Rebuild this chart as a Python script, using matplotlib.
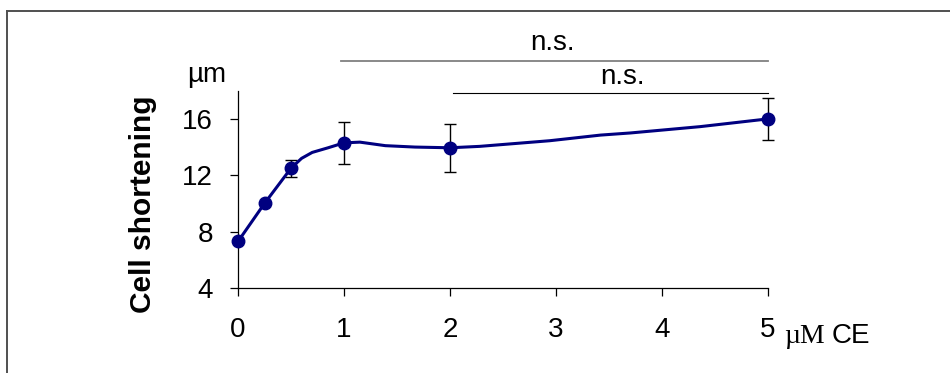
import matplotlib
matplotlib.use("Agg")
import matplotlib.pyplot as plt
from matplotlib.lines import Line2D

# measured points (µM CE -> cell shortening, µm)
conc = [0, 0.25, 0.5, 1, 2, 5]
shortening = [7.3, 10.0, 12.5, 14.3, 13.95, 16.0]
sem = [0, 0, 0.6, 1.5, 1.7, 1.5]

# smoothed trend line
curve_x = [0, 0.25, 0.5, 0.6, 0.7, 0.85, 1.0, 1.15, 1.39, 1.67, 2.0, 2.28, 2.94, 3.42, 3.70, 4.36, 5.0]
curve_y = [7.3, 10.0, 12.5, 13.2, 13.62, 13.95, 14.3, 14.35, 14.1, 14.0, 13.95, 14.05, 14.45, 14.85, 15.0, 15.45, 16.0]

xticks = [0, 1, 2, 3, 4, 5]
yticks = [4, 8, 12, 16]

plt.rcParams['font.family'] = ['Liberation Sans', 'DejaVu Sans']

fig = plt.figure(figsize=(9.5, 3.73), dpi=100)
ax = fig.add_axes([238 / 950, 1 - 288 / 373, 530 / 950, (288 - 90.7) / 373])

navy = '#000080'
ax.plot(curve_x, curve_y, color=navy, lw=2.2, zorder=3, solid_capstyle='round', clip_on=False)
for x, y, e in zip(conc, shortening, sem):
    if e > 0:
        eb = ax.errorbar(x, y, yerr=e, fmt='none', ecolor='black', elinewidth=1.0,
                         capsize=4, capthick=1.0, zorder=2)
        for art in eb.lines[1] + eb.lines[2]:
            art.set_clip_on(False)
ax.plot(conc, shortening, 'o', color=navy, markersize=9, zorder=4, clip_on=False)

ax.set_xlim(0, 5)
ax.set_ylim(4, 18)
ax.set_xticks(xticks)
ax.set_yticks(yticks)
ax.set_xticklabels([str(t) for t in xticks])
ax.set_yticklabels([str(t) for t in yticks])
ax.tick_params(axis='both', direction='out', length=6, width=0.9, labelsize=20)
ax.tick_params(axis='x', pad=15)
ax.tick_params(axis='y', pad=12)
for s in ['top', 'right']:
    ax.spines[s].set_visible(False)
for s in ['left', 'bottom']:
    ax.spines[s].set_linewidth(0.9)

# significance bars
ax.plot([0.97, 5.0], [20.12, 20.12], color='#808080', lw=1.3, clip_on=False)
ax.plot([2.03, 5.0], [17.85, 17.85], color='black', lw=0.8, clip_on=False)
fig.text(552 / 950, 1 - 43 / 373, 'n.s.', fontsize=20, ha='center', va='center')
fig.text(622 / 950, 1 - 77 / 373, 'n.s.', fontsize=20, ha='center', va='center')

# axis labels
fig.text(143 / 950, 1 - 204 / 373, 'Cell shortening', fontsize=21.5, fontweight='bold',
         rotation=90, ha='center', va='center')
fig.text(207 / 950, 1 - 75 / 373, 'µm', fontsize=20, ha='center', va='center')
fig.text(784 / 950, 1 - 343 / 373, 'µM', fontsize=20, family='Liberation Serif',
         ha='left', va='baseline')
fig.text(832 / 950, 1 - 343 / 373, 'CE', fontsize=20, ha='left', va='baseline')

# frame around the figure (top and left edges only)
frame_col = '#505050'
fig.add_artist(Line2D([7 / 950, 1], [1 - 10.5 / 373, 1 - 10.5 / 373], color=frame_col, lw=1.4))
fig.add_artist(Line2D([7 / 950, 7 / 950], [0, 1 - 10.5 / 373], color=frame_col, lw=1.4))

fig.savefig('out.png', dpi=100)
